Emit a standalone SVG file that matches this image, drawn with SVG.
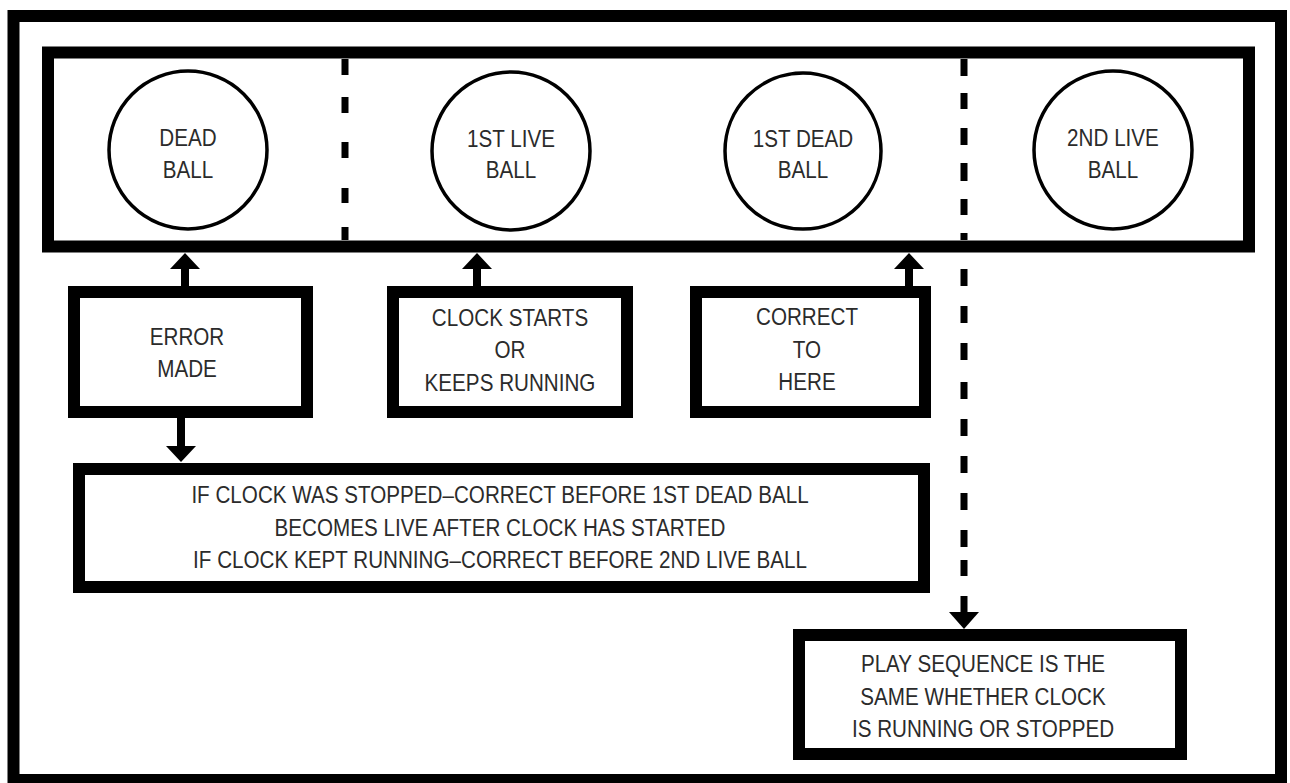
<svg xmlns="http://www.w3.org/2000/svg" width="1290" height="783" viewBox="0 0 1290 783">
<style>
.frame{fill:none;stroke:#000;stroke-width:12}
.box{fill:#fff;stroke:#000;stroke-width:12}
.ball{fill:#fff;stroke:#000;stroke-width:3.5}
.t{font-family:"Liberation Sans",Arial,sans-serif;font-size:24px;fill:#2b2b2b;text-anchor:middle}
.shaft{stroke:#000;stroke-width:8;fill:none}
.dash{stroke:#000;stroke-width:7;fill:none}
.head{fill:#000}
</style>
<rect width="1290" height="783" fill="#fff"/>
<rect id="outer-frame" class="frame" x="13.5" y="16" width="1267.5" height="764" stroke-width="13"/>

<g id="timeline">
  <rect class="box" x="48" y="52.5" width="1201" height="194"/>
</g>

<g id="connectors">
  <path class="dash" d="M345 59V75M345 97V113M345 142V158M345 188V203M345 227V240"/>
  <path class="dash" d="M964 59V76M964 93V109M964 128V145M964 163V181M964 199V215M964 233V240"/>
  <path class="dash" d="M964 269V286M964 306V323M964 343V360M964 382V399M964 419V436M964 456V473M964 493V510M964 530V547M964 560V576M964 596V614"/>
  <polygon class="head" points="949,612 979,612 964,629"/>
  <path class="shaft" d="M185 287V266"/>
  <polygon class="head" points="170,269 200,269 185,253"/>
  <path class="shaft" d="M477 287V266"/>
  <polygon class="head" points="462,269 492,269 477,253"/>
  <path class="shaft" d="M909 287V266"/>
  <polygon class="head" points="894,269 924,269 909,253"/>
  <path class="shaft" d="M181 417V449"/>
  <polygon class="head" points="166,446 196,446 181,462"/>
</g>

<g id="dead-ball">
  <circle class="ball" cx="188" cy="150" r="79"/>
  <text class="t" transform="translate(188 0) scale(0.86 1)"><tspan x="0" y="146">DEAD</tspan><tspan x="0" y="178">BALL</tspan></text>
</g>
<g id="first-live-ball">
  <circle class="ball" cx="511" cy="151" r="79"/>
  <text class="t" transform="translate(511 0) scale(0.86 1)"><tspan x="0" y="147">1ST LIVE</tspan><tspan x="0" y="178">BALL</tspan></text>
</g>
<g id="first-dead-ball">
  <circle class="ball" cx="803" cy="151" r="78"/>
  <text class="t" transform="translate(803 0) scale(0.86 1)"><tspan x="0" y="147">1ST DEAD</tspan><tspan x="0" y="178">BALL</tspan></text>
</g>
<g id="second-live-ball">
  <circle class="ball" cx="1113" cy="150" r="79"/>
  <text class="t" transform="translate(1113 0) scale(0.86 1)"><tspan x="0" y="146">2ND LIVE</tspan><tspan x="0" y="178">BALL</tspan></text>
</g>

<g id="error-made">
  <rect class="box" x="74" y="292" width="233" height="120"/>
  <text class="t" transform="translate(187 0) scale(0.86 1)"><tspan x="0" y="345">ERROR</tspan><tspan x="0" y="377">MADE</tspan></text>
</g>
<g id="clock-starts">
  <rect class="box" x="393" y="292" width="234" height="120"/>
  <text class="t" transform="translate(510 0) scale(0.86 1)"><tspan x="0" y="326">CLOCK STARTS</tspan><tspan x="0" y="358">OR</tspan><tspan x="0" y="391">KEEPS RUNNING</tspan></text>
</g>
<g id="correct-to-here">
  <rect class="box" x="696" y="292" width="229" height="120"/>
  <text class="t" transform="translate(807 0) scale(0.86 1)"><tspan x="0" y="325">CORRECT</tspan><tspan x="0" y="358">TO</tspan><tspan x="0" y="390">HERE</tspan></text>
</g>
<g id="if-clock">
  <rect class="box" x="79" y="469" width="845" height="118"/>
  <text class="t" transform="translate(500 0) scale(0.86 1)"><tspan x="0" y="503">IF CLOCK WAS STOPPED–CORRECT BEFORE 1ST DEAD BALL</tspan><tspan x="0" y="536">BECOMES LIVE AFTER CLOCK HAS STARTED</tspan><tspan x="0" y="568">IF CLOCK KEPT RUNNING–CORRECT BEFORE 2ND LIVE BALL</tspan></text>
</g>
<g id="play-sequence">
  <rect class="box" x="799" y="635" width="382" height="119"/>
  <text class="t" transform="translate(983 0) scale(0.86 1)"><tspan x="0" y="672">PLAY SEQUENCE IS THE</tspan><tspan x="0" y="705">SAME WHETHER CLOCK</tspan><tspan x="0" y="737">IS RUNNING OR STOPPED</tspan></text>
</g>
</svg>
